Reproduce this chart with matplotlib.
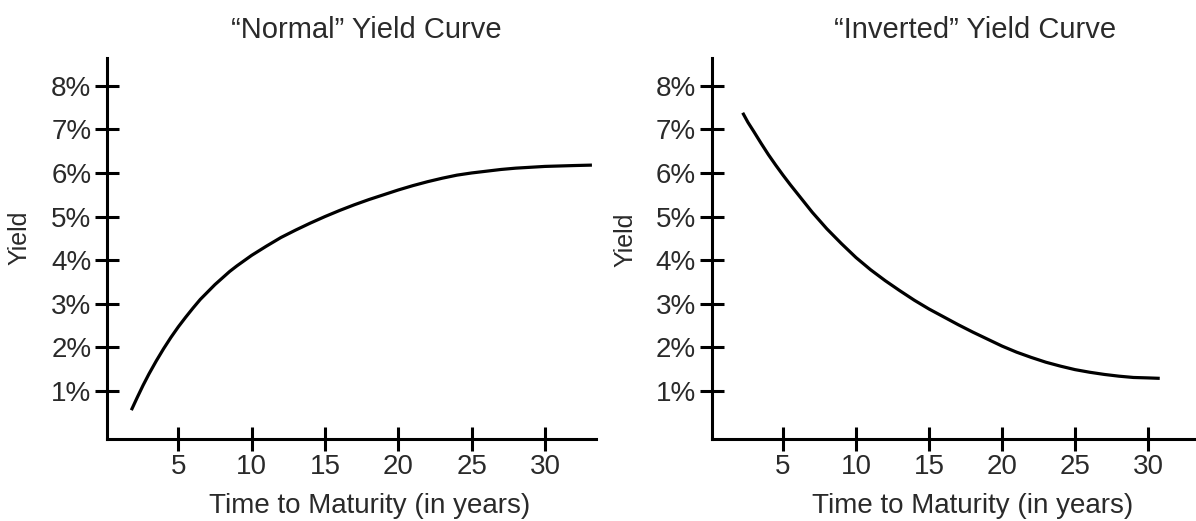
import matplotlib
matplotlib.use("Agg")
import matplotlib.pyplot as plt

plt.rcParams['font.family'] = ['Liberation Sans', 'DejaVu Sans']

# ---- data ----
normal_years = [1.8, 2.2, 2.6, 3.0, 3.5, 4.0, 4.5, 5.0, 5.5, 6.0, 6.5, 7.0, 7.5, 8.0, 8.5, 9.0, 9.5,
                10, 11, 12, 13, 14, 15, 16, 17, 18, 19, 20, 21, 22, 23, 24, 25, 26, 27, 28, 29,
                30, 31, 32, 33.2]
normal_yield = [0.56, 0.85, 1.13, 1.39, 1.69, 1.97, 2.23, 2.47, 2.69, 2.90, 3.10, 3.27, 3.44, 3.59,
                3.74, 3.87, 3.99, 4.11, 4.32, 4.52, 4.69, 4.85, 5.00, 5.14, 5.27, 5.39, 5.50, 5.61,
                5.71, 5.80, 5.88, 5.95, 6.00, 6.04, 6.08, 6.11, 6.13, 6.15, 6.16, 6.17, 6.18]

inverted_years = [2.24, 2.6, 3.0, 3.5, 4.0, 4.5, 5.0, 5.5, 6.0, 6.5, 7.0, 7.5, 8.0, 8.5, 9.0, 9.5,
                  10, 10.5, 11, 12, 13, 14, 15, 16, 17, 18, 19, 20, 21, 22, 23, 24, 25, 26, 27,
                  28, 29, 30, 30.8]
inverted_yield = [7.38, 7.16, 6.95, 6.68, 6.42, 6.18, 5.95, 5.73, 5.52, 5.31, 5.10, 4.91, 4.72,
                  4.55, 4.38, 4.22, 4.06, 3.92, 3.78, 3.53, 3.30, 3.08, 2.88, 2.70, 2.52, 2.35,
                  2.19, 2.03, 1.89, 1.77, 1.66, 1.57, 1.49, 1.43, 1.38, 1.34, 1.31, 1.30, 1.29]

x_ticks = [5, 10, 15, 20, 25, 30]
y_ticks = [1, 2, 3, 4, 5, 6, 7, 8]
y_ticklabels = ["1%", "2%", "3%", "4%", "5%", "6%", "7%", "8%"]

titles = ["\u201cNormal\u201d Yield Curve", "\u201cInverted\u201d Yield Curve"]
xlabel = "Time to Maturity (in years)"
ylabel = "Yield"

TXT = "#2a2a2a"

fig = plt.figure(figsize=(11.96, 5.21), dpi=100)

ax1 = fig.add_axes([0.0897, 0.1583, 0.4089, 0.7307])
ax2 = fig.add_axes([0.5951, 0.1583, 0.4051, 0.7307])

for ax, xs, ys, xlim in [(ax1, normal_years, normal_yield, (0.16, 33.5)),
                         (ax2, inverted_years, inverted_yield, (0.12, 33.3))]:
    ax.plot(xs, ys, color="black", lw=2.3, solid_capstyle="butt", solid_joinstyle="round")
    ax.set_xlim(*xlim)
    ax.set_ylim(-0.09, 8.64)
    for s in ["top", "right"]:
        ax.spines[s].set_visible(False)
    for s in ["left", "bottom"]:
        ax.spines[s].set_linewidth(2.2)
        ax.spines[s].set_color("black")
        ax.spines[s].set_clip_on(False)
    ax.set_xticks(x_ticks)
    ax.set_xticklabels([str(t) for t in x_ticks])
    ax.set_yticks(y_ticks)
    ax.set_yticklabels(y_ticklabels)
    ax.tick_params(direction="inout", length=17, width=2.2, color="black",
                   labelsize=20, labelcolor=TXT, pad=3)
    ax.patch.set_alpha(0)

# titles
fig.text(0.306, 0.9265, titles[0], ha="center", va="baseline", fontsize=21, color=TXT)
fig.text(0.815, 0.9265, titles[1], ha="center", va="baseline", fontsize=21, color=TXT)
# x labels
fig.text(0.3094, 0.0148, xlabel, ha="center", va="baseline", fontsize=20, color=TXT)
fig.text(0.8135, 0.0148, xlabel, ha="center", va="baseline", fontsize=20, color=TXT)
# y labels
fig.text(0.0167, 0.543, ylabel, ha="center", va="center", rotation=90, fontsize=18, color=TXT)
fig.text(0.5226, 0.539, ylabel, ha="center", va="center", rotation=90, fontsize=18, color=TXT)

fig.savefig("out.png", dpi=100, facecolor="white")
